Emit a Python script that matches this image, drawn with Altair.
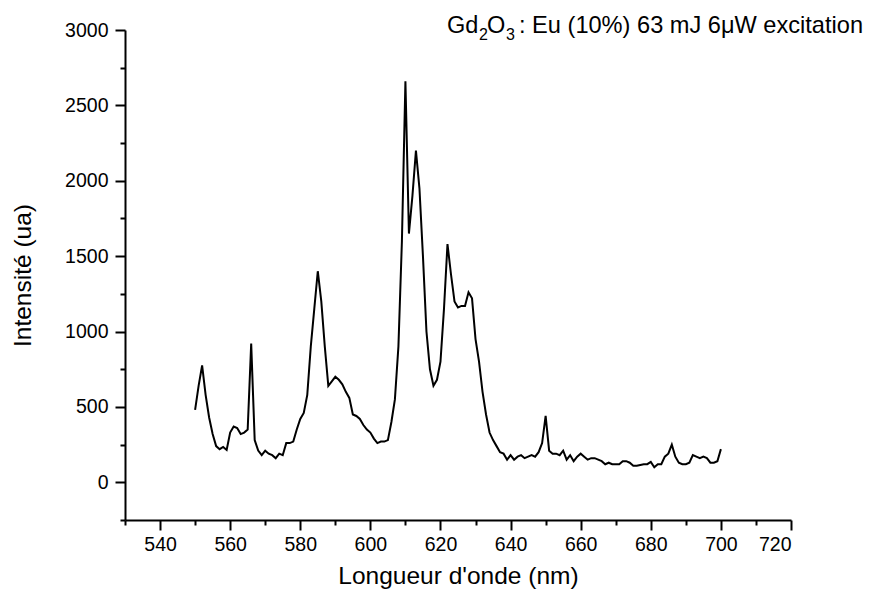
import altair as alt
import pandas as pd

# ---- data ----
wavelength = list(range(550, 701))
intensity = [
    480, 640, 775, 580, 430, 320, 240, 220, 235, 215,   # 550-559
    330, 370, 360, 320, 330, 350, 920, 280, 210, 180,   # 560-569
    210, 190, 180, 160, 190, 180, 260, 260, 270, 350,   # 570-579
    420, 460, 580, 900, 1150, 1400, 1200, 900, 640, 670,  # 580-589
    700, 680, 650, 600, 560, 450, 440, 420, 380, 350,   # 590-599
    330, 290, 260, 270, 270, 280, 400, 550, 900, 1600,  # 600-609
    2660, 1650, 1900, 2200, 1950, 1500, 1000, 750, 640, 680,  # 610-619
    800, 1150, 1580, 1380, 1200, 1160, 1170, 1170, 1260, 1220,  # 620-629
    950, 800, 600, 450, 330, 280, 240, 200, 190, 150,   # 630-639
    180, 150, 170, 180, 160, 170, 180, 170, 200, 260,   # 640-649
    440, 210, 190, 190, 180, 210, 150, 180, 140, 170,   # 650-659
    190, 170, 150, 160, 160, 150, 140, 120, 130, 120,   # 660-669
    120, 120, 140, 140, 130, 110, 110, 115, 120, 120,   # 670-679
    135, 100, 120, 120, 170, 190, 250, 170, 130, 120,   # 680-689
    120, 130, 180, 170, 160, 170, 160, 130, 130, 140,   # 690-699
    220,                                                # 700
]

x_major = list(range(540, 721, 20))
x_minor = list(range(530, 721, 20))
y_major = list(range(0, 3001, 500))
y_minor = list(range(-250, 3000, 500))

title_parts = ["Gd", "2", "O", "3", ": Eu (10%) 63 mJ 6μW excitation"]

x_title = "Longueur d'onde (nm)"
y_title = "Intensité (ua)"

# ---- chart ----
FONT = "Liberation Sans"
df = pd.DataFrame({"wavelength": wavelength, "intensity": intensity})

xs = alt.Scale(domain=[530, 720], nice=False, zero=False)
ys = alt.Scale(domain=[-250, 3000], nice=False, zero=False)

common_axis = dict(grid=False, domainColor="black", tickColor="black",
                   labelColor="black", titleColor="black",
                   labelFont=FONT, titleFont=FONT, titleFontWeight="normal",
                   domainWidth=2, tickWidth=2)

line = alt.Chart(df).mark_line(color="black", strokeWidth=2).encode(
    x=alt.X("wavelength:Q", scale=xs,
            axis=alt.Axis(values=x_major, orient="bottom", title=x_title,
                          tickSize=10, labelFontSize=19.5, titleFontSize=24.5,
                          labelPadding=5, titlePadding=11, format="d",
                          **common_axis)),
    y=alt.Y("intensity:Q", scale=ys,
            axis=alt.Axis(values=y_major, orient="left", title=y_title,
                          tickSize=10, labelFontSize=19.5, titleFontSize=24.5,
                          labelPadding=7, titlePadding=29, format="d",
                          **common_axis)),
)

minor = alt.Chart(df).mark_line(opacity=0).encode(
    x=alt.X("wavelength:Q", scale=xs,
            axis=alt.Axis(values=x_minor, orient="bottom", title="", labels=False,
                          domain=False, tickSize=5, grid=False,
                          tickColor="black", tickWidth=2)),
    y=alt.Y("intensity:Q", scale=ys,
            axis=alt.Axis(values=y_minor, orient="left", title="", labels=False,
                          domain=False, tickSize=5, grid=False,
                          tickColor="black", tickWidth=2)),
)

# annotation pieces (x offsets, baseline offsets, sizes are layout)
piece_x = [322, 354, 362, 381, 394]
piece_y = [3, 10, 3, 10, 3]
piece_size = [23.5, 16, 23.5, 16, 23.6]
texts = []
for t, px, py, fs in zip(title_parts, piece_x, piece_y, piece_size):
    texts.append(
        alt.Chart(pd.DataFrame({"t": [t]})).mark_text(
            align="left", baseline="alphabetic", font=FONT, fontSize=fs, color="black"
        ).encode(x=alt.value(px), y=alt.value(py), text="t:N")
    )

chart = alt.layer(line, minor, *texts).resolve_axis(
    x="independent", y="independent"
).properties(
    width=666, height=490,
    autosize=alt.AutoSizeParams(type="none"),
    padding={"left": 117, "top": 22, "right": 77, "bottom": 70},
).configure(background="white").configure_view(stroke="transparent", strokeWidth=0)

chart.save("out.html", embed_options={"renderer": "svg", "actions": False})
